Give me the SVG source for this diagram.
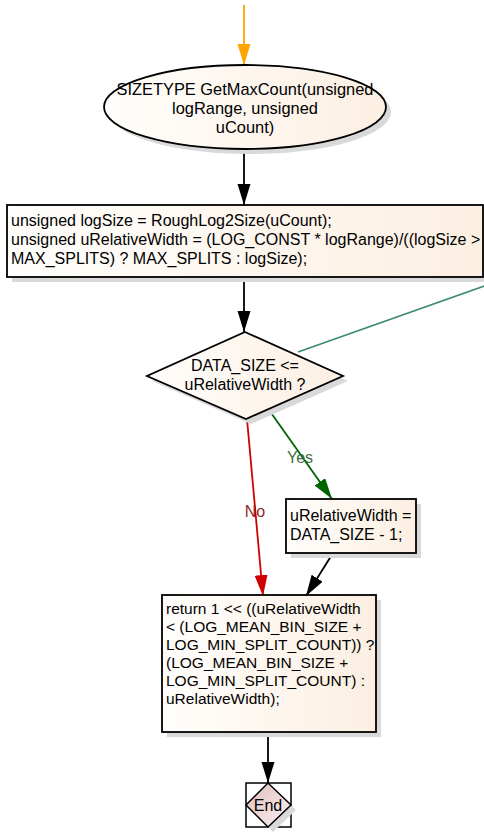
<svg xmlns="http://www.w3.org/2000/svg" width="484" height="832" viewBox="0 0 484 832">
<defs>
<linearGradient id="g" x1="0" y1="0" x2="1" y2="0">
<stop offset="0" stop-color="#fffefc"/><stop offset="1" stop-color="#fcefe2"/>
</linearGradient>
<linearGradient id="gp" x1="0" y1="0" x2="1" y2="1">
<stop offset="0" stop-color="#e2bcbc"/><stop offset="1" stop-color="#fbf3f3"/>
</linearGradient>
<marker id="ab" markerUnits="userSpaceOnUse" markerWidth="22" markerHeight="14" refX="21" refY="6.5" orient="auto"><path d="M0,0 L21,6.5 L0,13 z" fill="#000"/></marker>
<marker id="ao" markerUnits="userSpaceOnUse" markerWidth="22" markerHeight="14" refX="21" refY="6.5" orient="auto"><path d="M0,0 L21,6.5 L0,13 z" fill="#ffa500"/></marker>
<marker id="ag" markerUnits="userSpaceOnUse" markerWidth="22" markerHeight="14" refX="21" refY="6.5" orient="auto"><path d="M0,0 L21,6.5 L0,13 z" fill="#006400"/></marker>
<marker id="ar" markerUnits="userSpaceOnUse" markerWidth="22" markerHeight="14" refX="21" refY="6.5" orient="auto"><path d="M0,0 L21,6.5 L0,13 z" fill="#d00000"/></marker>
</defs>
<style>
text{font-family:"Liberation Sans",Arial,sans-serif;font-size:16px;fill:#000}
.sh{fill:#d9d9d9}
.n{fill:url(#g);stroke:#000;stroke-width:1.8}
.c{fill:none;stroke-width:1.8}
.m{text-anchor:middle}
#start text{font-size:16.4px}
#ret text{font-size:15.5px}
</style>
<g id="connectors">
<line class="c" x1="244" y1="5" x2="244" y2="65" stroke="#ffa500" marker-end="url(#ao)"/>
<line class="c" x1="244" y1="149" x2="244" y2="205" stroke="#000" marker-end="url(#ab)"/>
<line class="c" x1="244" y1="277" x2="244" y2="332" stroke="#000" marker-end="url(#ab)"/>
<line class="c" x1="298" y1="352" x2="490" y2="284" stroke="#3d8b6f"/>
<line class="c" x1="269" y1="410" x2="332" y2="499" stroke="#006400" marker-end="url(#ag)"/>
<text x="300" y="463" class="m" style="fill:#3f6f3f">Yes</text>
<line class="c" x1="247" y1="419" x2="263" y2="596" stroke="#d00000" marker-end="url(#ar)"/>
<text x="255" y="517" class="m" style="fill:#8b2a2a">No</text>
<line class="c" x1="333" y1="553" x2="306" y2="596" stroke="#000" marker-end="url(#ab)"/>
<line class="c" x1="268" y1="732" x2="268" y2="783" stroke="#000" marker-end="url(#ab)"/>
</g>
<g id="start">
<ellipse class="sh" cx="250" cy="112" rx="141" ry="42"/>
<ellipse class="n" cx="245" cy="107" rx="141" ry="42"/>
<text class="m" x="245" y="94.5">SIZETYPE GetMaxCount(unsigned</text>
<text class="m" x="245" y="113.5">logRange, unsigned</text>
<text class="m" x="245" y="132.5">uCount)</text>
</g>
<g id="init">
<rect class="sh" x="12" y="210" width="476" height="72"/>
<rect class="n" x="7" y="205" width="476" height="72"/>
<text x="11" y="226">unsigned logSize = RoughLog2Size(uCount);</text>
<text x="11" y="245">unsigned uRelativeWidth = (LOG_CONST * logRange)/((logSize &gt;</text>
<text x="11" y="264">MAX_SPLITS) ? MAX_SPLITS : logSize);</text>
</g>
<g id="decision">
<polygon class="sh" points="250,337 348,381 251,424 152,381"/>
<polygon class="n" points="245,332 343,376 246,419 147,376"/>
<text class="m" x="245" y="371">DATA_SIZE &lt;=</text>
<text class="m" x="245" y="390">uRelativeWidth ?</text>
</g>
<g id="yesbox">
<rect class="sh" x="291" y="504" width="130" height="54"/>
<rect class="n" x="286" y="499" width="130" height="54"/>
<text x="290" y="521">uRelativeWidth =</text>
<text x="290" y="540">DATA_SIZE - 1;</text>
</g>
<g id="ret">
<rect class="sh" x="167" y="600" width="214" height="137"/>
<rect class="n" x="162" y="595" width="214" height="137"/>
<text x="166" y="614">return 1 &lt;&lt; ((uRelativeWidth</text>
<text x="166" y="632">&lt; (LOG_MEAN_BIN_SIZE +</text>
<text x="166" y="650">LOG_MIN_SPLIT_COUNT)) ?</text>
<text x="166" y="668">(LOG_MEAN_BIN_SIZE +</text>
<text x="166" y="686">LOG_MIN_SPLIT_COUNT) :</text>
<text x="166" y="704">uRelativeWidth);</text>
</g>
<g id="end">
<rect x="246" y="783" width="45" height="44" fill="#fff" stroke="#000" stroke-width="1.5"/>
<polygon class="sh" points="273,788 296,810 273,832 251,810"/>
<polygon points="268,783 291,805 268,827 246,805" fill="url(#gp)" stroke="#000" stroke-width="1.5"/>
<text class="m" x="268" y="811">End</text>
</g>
</svg>
